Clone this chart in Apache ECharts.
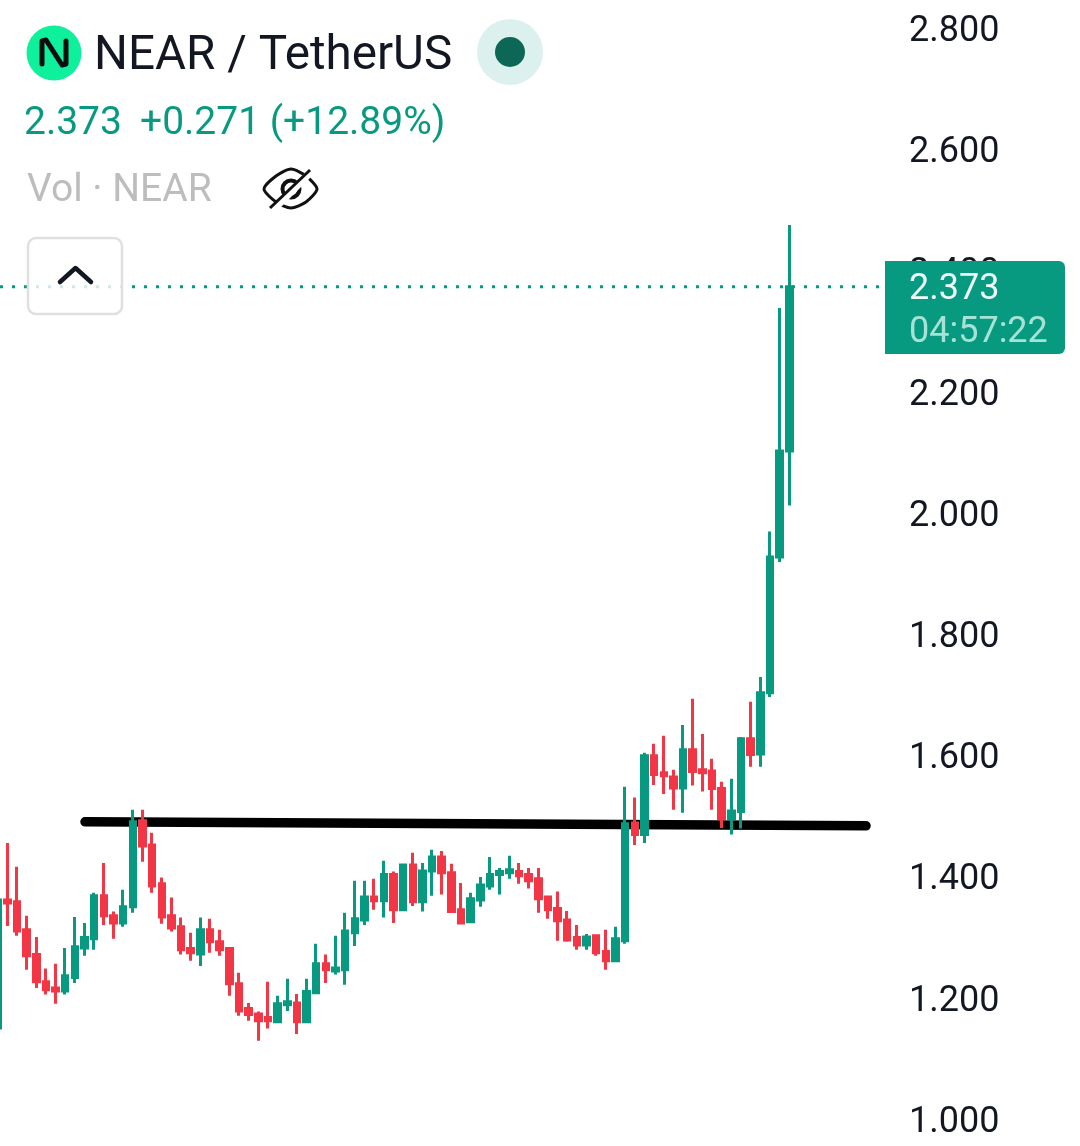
<!DOCTYPE html>
<html>
<head>
<meta charset="utf-8">
<style>html,body{margin:0;padding:0;background:#fff}#c{width:1080px;height:1146px}</style>
<script src="https://cdn.jsdelivr.net/npm/echarts@6/dist/echarts.min.js"></script>
</head>
<body>
<div id="c"></div>
<script>
const opens = [1.150,1.361,1.358,1.312,1.271,1.226,1.216,1.211,1.233,1.282,1.297,1.368,1.335,1.323,1.350,1.492,1.452,1.388,1.335,1.317,1.281,1.272,1.312,1.292,1.281,1.223,1.182,1.173,1.167,1.160,1.188,1.191,1.160,1.208,1.256,1.244,1.246,1.307,1.328,1.366,1.360,1.403,1.345,1.419,1.358,1.409,1.432,1.406,1.345,1.325,1.361,1.384,1.403,1.406,1.408,1.403,1.396,1.366,1.347,1.328,1.299,1.287,1.302,1.276,1.261,1.294,1.488,1.469,1.599,1.571,1.564,1.546,1.609,1.576,1.574,1.545,1.495,1.507,1.627,1.602,1.703,1.927,2.102];
const closes = [1.361,1.356,1.310,1.269,1.226,1.213,1.211,1.236,1.284,1.299,1.368,1.335,1.323,1.350,1.490,1.450,1.384,1.333,1.315,1.279,1.274,1.312,1.292,1.279,1.223,1.178,1.172,1.162,1.162,1.190,1.193,1.160,1.210,1.256,1.246,1.249,1.310,1.330,1.366,1.360,1.403,1.345,1.419,1.358,1.409,1.432,1.406,1.342,1.323,1.363,1.386,1.403,1.408,1.411,1.401,1.393,1.363,1.345,1.327,1.295,1.287,1.300,1.274,1.261,1.297,1.487,1.469,1.599,1.568,1.566,1.546,1.609,1.573,1.571,1.545,1.495,1.508,1.627,1.601,1.703,1.927,2.102,2.373];
const lows = [1.150,1.318,1.302,1.246,1.216,1.205,1.190,1.205,1.224,1.269,1.279,1.320,1.297,1.317,1.340,1.424,1.373,1.322,1.309,1.271,1.261,1.252,1.274,1.269,1.203,1.170,1.162,1.129,1.149,1.160,1.178,1.140,1.158,1.208,1.224,1.238,1.221,1.285,1.320,1.345,1.332,1.323,1.345,1.351,1.342,1.368,1.370,1.342,1.322,1.325,1.350,1.378,1.370,1.396,1.388,1.380,1.340,1.330,1.294,1.292,1.279,1.279,1.269,1.246,1.259,1.289,1.452,1.455,1.551,1.536,1.510,1.505,1.550,1.540,1.510,1.480,1.469,1.479,1.581,1.581,1.696,1.919,2.012];
const highs = [1.361,1.455,1.416,1.335,1.300,1.248,1.256,1.282,1.333,1.323,1.373,1.422,1.342,1.378,1.510,1.510,1.472,1.398,1.365,1.332,1.307,1.332,1.330,1.312,1.281,1.241,1.191,1.177,1.226,1.203,1.231,1.206,1.231,1.289,1.271,1.302,1.340,1.393,1.393,1.396,1.426,1.408,1.421,1.439,1.422,1.444,1.442,1.421,1.389,1.373,1.399,1.432,1.414,1.434,1.422,1.414,1.414,1.368,1.375,1.343,1.320,1.305,1.304,1.312,1.317,1.548,1.530,1.604,1.619,1.632,1.576,1.650,1.693,1.635,1.594,1.556,1.561,1.630,1.688,1.729,1.969,2.338,2.475];
const xRange = [0.244, 91.5];
const yTicks = [1.0,1.2,1.4,1.6,1.8,2.0,2.2,2.4,2.6,2.8];
const trendX = [9.05, 89.95];
const trendY = [1.490, 1.4835];
const lastPrice = 2.373;
const UP = '#089981', DOWN = '#f23645', INK = '#131722', FONT = 'Roboto, sans-serif';

const candleData = opens.map((o, i) => [i, o, closes[i], lows[i], highs[i]]);
const chart = echarts.init(document.getElementById('c'), null, {renderer: 'canvas'});
const txt = (x, y, text, size, fill) => ({type: 'text', z: 100, style: {x, y, text, fill, font: '400 ' + size + 'px ' + FONT, textVerticalAlign: 'middle', textAlign: 'left'}});
chart.setOption({
  animation: false,
  backgroundColor: '#fff',
  tooltip: {show: false},
  grid: {left: 0, top: 28, width: 881, height: 1090.8},
  xAxis: {type: 'value', min: xRange[0], max: xRange[1], show: false, splitLine: {show: false}},
  yAxis: {
    type: 'value', position: 'right',
    min: yTicks[0], max: yTicks[yTicks.length - 1], interval: 0.2, scale: true,
    splitLine: {show: false}, axisLine: {show: false}, axisTick: {show: false},
    axisLabel: {margin: 28, fontSize: 36, fontFamily: 'Roboto', color: INK, verticalAlign: 'top', lineHeight: 8, formatter: v => v.toFixed(3), showMinLabel: true, showMaxLabel: true}
  },
  series: [
    {
      type: 'line', z: 1, silent: true, symbol: 'none', clip: false,
      data: trendX.map((x, i) => [x, trendY[i]]),
      lineStyle: {color: '#000', width: 9.5, cap: 'round'}
    },
    {
      type: 'line', z: 1, silent: true, symbol: 'none',
      data: xRange.map(x => [x, lastPrice]),
      lineStyle: {color: UP, width: 3, type: [3, 9]}
    },
    {
      type: 'candlestick', z: 2, barWidth: 6, clip: true,
      data: candleData,
      itemStyle: {color: UP, color0: DOWN, borderColor: UP, borderColor0: DOWN, borderWidth: 3}
    }
  ],
  graphic: [
    {type: 'circle', z: 100, shape: {cx: 54, cy: 53, r: 27.5}, style: {fill: '#0ef09b'}},
    {type: 'polyline', z: 101, shape: {points: [[42,64],[42,41],[46,40],[62,65],[66,64],[66,41]]}, style: {fill: 'none', stroke: '#0b0e11', lineWidth: 5, lineCap: 'round', lineJoin: 'round'}},
    txt(94, 57, 'NEAR / TetherUS', 47.6, INK),
    {type: 'circle', z: 100, shape: {cx: 510, cy: 52, r: 33}, style: {fill: '#dcf1ed'}},
    {type: 'circle', z: 101, shape: {cx: 510, cy: 52, r: 15}, style: {fill: '#0c6756'}},
    txt(24, 124, '2.373', 39, UP),
    txt(140, 124, '+0.271 (+12.89%)', 39, UP),
    txt(27, 191, 'Vol · NEAR', 39, '#bdbdbd'),
    {type: 'polygon', z: 100, shape: {points: [[264,189],[276,176],[291,169],[306,176],[317,189],[306,202],[291,208],[276,202]], smooth: 0.25}, style: {fill: 'none', stroke: '#111', lineWidth: 3}},
    {type: 'circle', z: 100, shape: {cx: 291, cy: 189, r: 8.5}, style: {fill: 'none', stroke: '#111', lineWidth: 4}},
    {type: 'line', z: 101, shape: {x1: 272, y1: 211, x2: 312, y2: 171}, style: {stroke: '#fff', lineWidth: 7}},
    {type: 'line', z: 102, shape: {x1: 270, y1: 208, x2: 310, y2: 170}, style: {stroke: '#111', lineWidth: 3}},
    {type: 'rect', z: 100, shape: {x: 28, y: 238, width: 94, height: 76, r: 8}, style: {fill: 'rgba(255,255,255,0.8)', stroke: '#e0e0e0', lineWidth: 2.5}},
    {type: 'polyline', z: 101, shape: {points: [[60,282],[75.5,268],[91,282]]}, style: {fill: 'none', stroke: INK, lineWidth: 4.5, lineCap: 'round', lineJoin: 'round'}},
    {type: 'rect', z: 100, shape: {x: 885, y: 261, width: 180, height: 93, r: [0,6,6,0]}, style: {fill: UP}},
    txt(909, 290, '2.373', 36, '#eefaf7'),
    txt(909, 333, '04:57:22', 36, '#a6e3d6')
  ]
});
</script>
</body>
</html>
